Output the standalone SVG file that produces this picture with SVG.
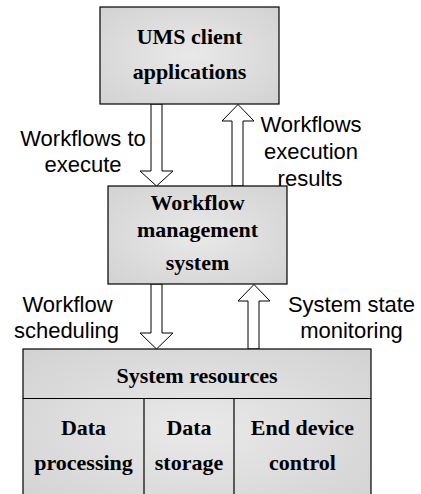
<svg xmlns="http://www.w3.org/2000/svg" width="421" height="494" viewBox="0 0 421 494">
<defs>
<radialGradient id="g" cx="50%" cy="50%" r="70%">
<stop offset="0" stop-color="#e9e9e9"/>
<stop offset="1" stop-color="#d2d2d2"/>
</radialGradient>
<style>
.box{fill:url(#g);stroke:#000;stroke-width:1.2}
.div{stroke:#000;stroke-width:1.2;fill:none}
.b{font-family:"Liberation Serif",serif;font-weight:bold;font-size:22px;text-anchor:middle;fill:#000}
.l{font-family:"Liberation Sans",Arial,sans-serif;font-size:22px;text-anchor:middle;fill:#000}
.arr{fill:#fff;stroke:#000;stroke-width:1}
</style>
</defs>
<rect width="421" height="494" fill="#fff"/>
<g id="connectors">
<polygon class="arr" points="151,104 162,104 162,171 173,171 156.5,186 140,171 151,171"/>
<polygon class="arr" points="232,186 243,186 243,121 254,121 238,104.5 222,121 232,121"/>
<polygon class="arr" points="151,284 162,284 162,333 173,333 156.5,349 140,333 151,333"/>
<polygon class="arr" points="248,349 259,349 259,301 270,301 254,284.5 238,301 248,301"/>
</g>
<g id="labels">
<text class="l" x="83" y="146">Workflows to</text>
<text class="l" x="83" y="172">execute</text>
<text class="l" x="311" y="132">Workflows</text>
<text class="l" x="311" y="159">execution</text>
<text class="l" x="310" y="186">results</text>
<text class="l" x="67.5" y="312">Workflow</text>
<text class="l" x="66.5" y="338">scheduling</text>
<text class="l" x="351.5" y="312">System state</text>
<text class="l" x="351.5" y="338">monitoring</text>
</g>
<g id="ums">
<rect class="box" x="100" y="7" width="179" height="97"/>
<text class="b" x="189.5" y="44">UMS client</text>
<text class="b" x="189.5" y="79">applications</text>
</g>
<g id="wms">
<rect class="box" x="108" y="186" width="179" height="98"/>
<text class="b" x="197.5" y="210">Workflow</text>
<text class="b" x="197.5" y="237">management</text>
<text class="b" x="197.5" y="270">system</text>
</g>
<g id="resources">
<rect class="box" x="23" y="349" width="348" height="160"/>
<line class="div" x1="23" y1="398.5" x2="371" y2="398.5"/>
<text class="b" x="197" y="383">System resources</text>
</g>
<g id="data-processing">
<text class="b" x="83.5" y="435">Data</text>
<text class="b" x="83.5" y="470">processing</text>
</g>
<g id="data-storage">
<line class="div" x1="144" y1="398.5" x2="144" y2="494"/>
<text class="b" x="189" y="435">Data</text>
<text class="b" x="189" y="470">storage</text>
</g>
<g id="end-device">
<line class="div" x1="234" y1="398.5" x2="234" y2="494"/>
<text class="b" x="302.5" y="435">End device</text>
<text class="b" x="302.5" y="470">control</text>
</g>
</svg>
